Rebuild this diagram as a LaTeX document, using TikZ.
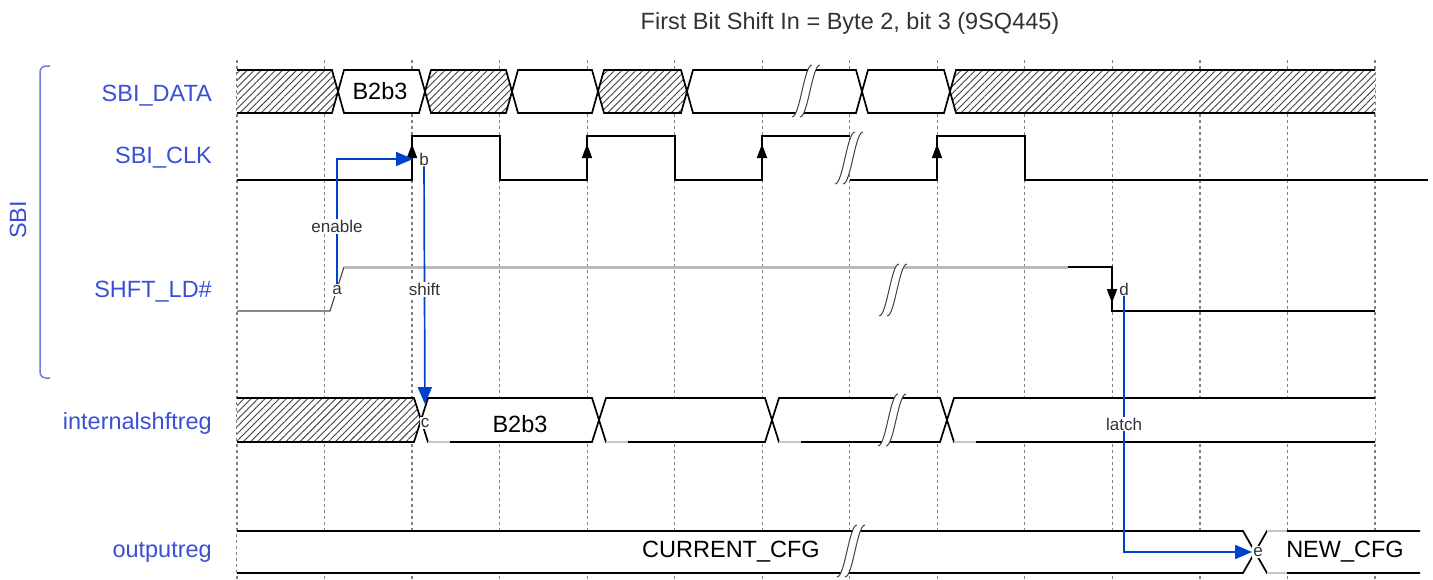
\documentclass[tikz,border=0pt]{standalone}
\usepackage{fontspec}
\setmainfont{Liberation Sans}
\usetikzlibrary{arrows.meta,patterns.meta}
\definecolor{sigblue}{RGB}{58,80,212}
\definecolor{arrblue}{RGB}{0,64,204}

\begin{document}
\begin{tikzpicture}[x=1pt,y=-1pt,every node/.style={font=\fontsize{23.5}{28}\selectfont,inner sep=1pt},
  sig/.style={line width=1.7},gridline/.style={black!50,line width=1.2,dash pattern=on 3 off 3},
  hatched/.style={preaction={fill=white},pattern={Lines[angle=45,distance=5pt,line width=.9pt]},pattern color=black!75},
  sname/.style={text=sigblue,anchor=east},tag/.style={font=\fontsize{17}{20}\selectfont,fill=white,text=black!80},
  arr/.style={arrblue,line width=1.7,-{Triangle[length=17pt,width=14pt]}},clkarrow/.style={-{Triangle[length=14pt,width=10pt]}},
  brk/.pic={\fill[white] (-14,26) .. controls (-6,26) and (-2,-26) .. (6,-26) -- (14,-26) .. controls (6,-26) and (2,26) .. (-6,26) -- cycle;
    \draw[black!75,line width=1] (-14,26) .. controls (-6,26) and (-2,-26) .. (6,-26) (-6,26) .. controls (2,26) and (6,-26) .. (14,-26);}]
\useasboundingbox (0,0) rectangle (1433,579);
\foreach \i in {0,...,13} \draw[gridline] (237+87.54*\i,60) -- (237+87.54*\i,579);
\node[text=black!80] (title) at (850,23) {First Bit Shift In = Byte 2, bit 3 (9SQ445)};
% SBI group
\draw[sigblue!75,line width=1.5,rounded corners=6] (50,66) -- (40,66) -- (40,378) -- (50,378);
\node[text=sigblue,rotate=90] (sbi) at (18,220) {SBI};
\node[sname] (ndata) at (213,96) {SBI\_DATA};\node[sname] (nclk) at (213,158) {SBI\_CLK};\node[sname] (nshft) at (213,292) {SHFT\_LD\#};
\node[sname] (nint) at (213,423) {internalshftreg};\node[sname] (nout) at (213,552) {outputreg};
% SBI_DATA
\fill[hatched] (237,70) -- (332,70) -- (338,91.5) -- (332,113) -- (237,113) -- cycle;\draw[sig] (237,70) -- (332,70) -- (338,91.5) -- (332,113) -- (237,113);
\foreach \l/\r in {425/512,598/687} \filldraw[sig,hatched] (\l,91.5) -- (\l+6,70) -- (\r-6,70) -- (\r,91.5) -- (\r-6,113) -- (\l+6,113) -- cycle;
\foreach \l/\r in {338/425,512/598,687/862,862/950} \filldraw[sig,fill=white] (\l,91.5) -- (\l+6,70) -- (\r-6,70) -- (\r,91.5) -- (\r-6,113) -- (\l+6,113) -- cycle;
\fill[hatched] (950,91.5) -- (956,70) -- (1375,70) -- (1375,113) -- (956,113) -- cycle;\draw[sig] (1375,70) -- (956,70) -- (950,91.5) -- (956,113) -- (1375,113);
\node (bdata) at (380,91.5) {B2b3};
\pic at (806,91) {brk};
% SBI_CLK
\draw[sig] (237,180) -- (412,180) -- (412,136) -- (500,136) -- (500,180) -- (587,180) -- (587,136) -- (675,136) -- (675,180) -- (762,180) -- (762,136) -- (850,136);
\draw[sig] (850,180) -- (937,180) -- (937,136) -- (1025,136) -- (1025,180) -- (1428,180);
\foreach \x in {412,587,762,937} \draw[sig,clkarrow] (\x,160) -- (\x,144);
\pic at (849,158) {brk};
% SHFT_LD#
\draw[black!70,line width=1.2] (237,311) -- (330,311) -- (344,267);
\draw[gray!55,line width=3] (344,267) -- (1068,267);
\draw[sig] (1068,267) -- (1112,267) -- (1112,311) -- (1375,311);\draw[sig,clkarrow] (1112,284) -- (1112,303);
\pic at (893,290) {brk};
% internalshftreg
\fill[hatched] (237,398) -- (414,398) -- (421,420) -- (414,442) -- (237,442) -- cycle;\draw[sig] (237,398) -- (414,398) -- (421,420) -- (414,442) -- (237,442);
\foreach \l/\r in {421/599,599/772,772/947} \filldraw[sig,fill=white] (\l,420) -- (\l+7,398) -- (\r-7,398) -- (\r,420) -- (\r-7,442) -- (\l+7,442) -- cycle;
\fill[white] (947,420) -- (954,398) -- (1375,398) -- (1375,442) -- (954,442) -- cycle;\draw[sig] (1375,398) -- (954,398) -- (947,420) -- (954,442) -- (1375,442);
\foreach \x in {428,606,779,954} \draw[gray!45,line width=1.7] (\x,442) -- (\x+22,442);
\node (bint) at (520,424) {B2b3};
\pic at (892,420) {brk};
% outputreg
\fill[white] (237,531) rectangle (1420,573);
\draw[sig] (237,531) -- (1243,531) -- (1255,552) -- (1243,573) -- (237,573);\draw[sig] (1420,531) -- (1267,531) -- (1255,552) -- (1267,573) -- (1420,573);
\draw[gray!45,line width=1.7] (1267,531) -- (1287,531) (1267,573) -- (1287,573);
\node (cur) at (731,552) {CURRENT\_CFG};\node (new) at (1345,552) {NEW\_CFG};
\pic at (851,551) {brk};
% events
\node[tag] (a) at (337,290) {a};\node[tag] (b) at (424,159) {b};\node[tag] (c) at (425,423) {c};
\node[tag] (d) at (1124,289) {d};\node[tag] (e) at (1258,552) {e};
\draw[arr,shorten >=5pt] (a) |- (b) node[tag,pos=.23] (en) {enable};
\draw[arr,shorten >=13pt] (b) -- (c) node[tag,pos=.49] (sh) {shift};
\draw[arr] (d) |- (e) node[tag,pos=.25] (la) {latch};
\end{tikzpicture}
\end{document}
